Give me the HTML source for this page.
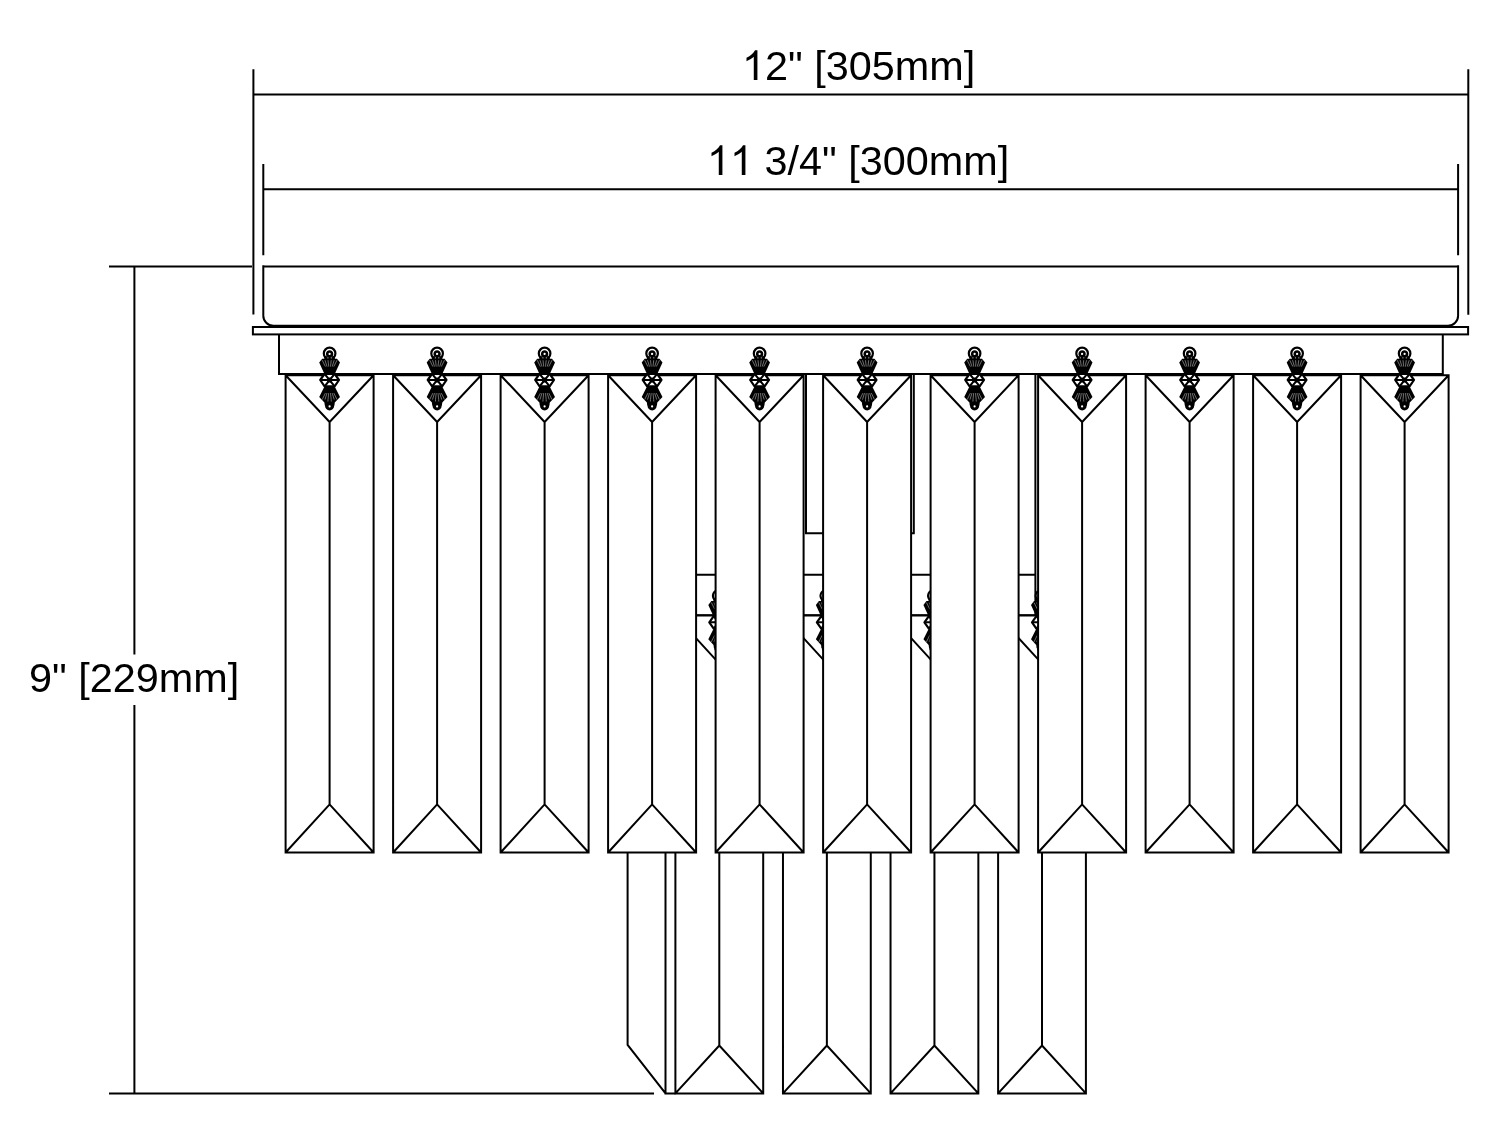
<!DOCTYPE html>
<html><head><meta charset="utf-8"><title>Fixture dimensions</title>
<style>
html,body{margin:0;padding:0;background:#fff;}
body{width:1500px;height:1145px;overflow:hidden;position:relative;font-family:"Liberation Sans",sans-serif;}
#dwg{position:absolute;left:0;top:0;display:block;}
.lbl{position:absolute;white-space:nowrap;color:#111;font-family:"Liberation Sans",sans-serif;font-size:41.4px;line-height:42px;color:#000;font-kerning:none;letter-spacing:0;background:transparent;will-change:transform;}
.g1{display:inline-block;width:0.55615em;height:0.75em;vertical-align:baseline;overflow:visible;}
</style></head><body>
<svg id="dwg" width="1500" height="1145" viewBox="0 0 1500 1145">
<defs>

<g id="orn">
<circle cx="0" cy="6.9" r="5.8" fill="#fff" stroke="#000" stroke-width="2.2"/>
<circle cx="0" cy="7.3" r="2.4" fill="#fff" stroke="#000" stroke-width="2.6"/>
<rect x="-5.2" y="9.6" width="10.4" height="3.4" fill="#000"/>
<path d="M-1.7,10.3V12.2M1.7,10.3V12.2" stroke="#aaa" stroke-width="0.8"/>
<polygon points="-7.4,12.2 7.4,12.2 10.4,16 5.4,27 -5.4,27 -10.4,16" fill="#000"/>
<line x1="-7.4" y1="13.6" x2="-4.2" y2="20" stroke="#8a8a8a" stroke-width="0.8"/>
<line x1="-4.6" y1="13.6" x2="-2.6" y2="20" stroke="#8a8a8a" stroke-width="0.8"/>
<line x1="-1.6" y1="13.6" x2="-0.9" y2="20" stroke="#8a8a8a" stroke-width="0.8"/>
<line x1="1.6" y1="13.6" x2="0.9" y2="20" stroke="#8a8a8a" stroke-width="0.8"/>
<line x1="4.6" y1="13.6" x2="2.6" y2="20" stroke="#8a8a8a" stroke-width="0.8"/>
<line x1="7.4" y1="13.6" x2="4.2" y2="20" stroke="#8a8a8a" stroke-width="0.8"/>
<polygon points="-9.4,33.4 -5,27.2 5,27.2 9.4,33.4 5,39.8 -5,39.8" fill="#fff" stroke="#000" stroke-width="2.2" stroke-linejoin="round"/>
<path d="M-9.4,33.4H9.4M-5,27.2L5,39.8M5,27.2L-5,39.8" stroke="#000" stroke-width="2.1" fill="none"/>
<circle cx="0" cy="33.4" r="2.6" fill="#000"/>
<polygon points="-5,39.6 5,39.6 10.4,50.3 5.2,56 4.8,59 -4.8,59 -5.2,56 -10.4,50.3" fill="#000"/>
<line x1="-4.2" y1="46.5" x2="-7.4" y2="53" stroke="#8a8a8a" stroke-width="0.8"/>
<line x1="-2.6" y1="46.5" x2="-4.6" y2="53" stroke="#8a8a8a" stroke-width="0.8"/>
<line x1="-0.9" y1="46.5" x2="-1.6" y2="53" stroke="#8a8a8a" stroke-width="0.8"/>
<line x1="0.9" y1="46.5" x2="1.6" y2="53" stroke="#8a8a8a" stroke-width="0.8"/>
<line x1="2.6" y1="46.5" x2="4.6" y2="53" stroke="#8a8a8a" stroke-width="0.8"/>
<line x1="4.2" y1="46.5" x2="7.4" y2="53" stroke="#8a8a8a" stroke-width="0.8"/>
<path d="M-1.6,53V57M1.6,53V57" stroke="#8a8a8a" stroke-width="0.8"/>
<circle cx="0" cy="59.2" r="4.6" fill="#000"/>
<circle cx="0" cy="59.8" r="1.1" fill="#fff"/>
</g>
</defs>
<rect x="0" y="0" width="1500" height="1145" fill="#fff"/>
<g fill="none" stroke="#000" stroke-width="2" stroke-linecap="butt" stroke-linejoin="miter">
<path d="M253.4,69.3V314.6M1468.3,69.3V314.8M253.4,94.6H1468.3"/>
<path d="M263.3,164V255.2M1458.1,164V255.3M263.3,189.3H1458.1"/>
<path d="M109,266.4H252M109,1093.4H654M134.4,266.4V654.4M134.4,705V1093.4"/>
<path d="M263.3,265.3V315.7A10,10 0 0 0 273.3,325.7H1448.1A10,10 0 0 0 1458.1,315.7V265.3M263.3,266.4H1458.1"/>
<rect x="252.9" y="327" width="1215.2" height="7.4"/>
<path d="M279,334.4V374H1442.8V334.4"/>
<path d="M806,374V533.2H913.8V374"/>
<path d="M686,374V574.8H1035.4V374M686,574.8V615.2H1035.4V574.8"/>
</g>
<g fill="none" stroke="#000" stroke-width="2" stroke-linejoin="miter">
<path d="M627.6,852.5V1044.8L665.5,1093.4M665.5,852.5V1093.4H675.4"/>
<rect x="675.4" y="615.6" width="87.8" height="477.8" fill="#fff" stroke="none"/>
<path d="M675.4,615.6H763.2V1093.4H675.4ZM675.4,615.6L719.3,663.6L763.2,615.6M719.3,663.6V1045.6M675.4,1093.4L719.3,1045.6L763.2,1093.4"/>
<rect x="782.97" y="615.6" width="87.8" height="477.8" fill="#fff" stroke="none"/>
<path d="M782.97,615.6H870.77V1093.4H782.97ZM782.97,615.6L826.87,663.6L870.77,615.6M826.87,663.6V1045.6M782.97,1093.4L826.87,1045.6L870.77,1093.4"/>
<rect x="890.54" y="615.6" width="87.8" height="477.8" fill="#fff" stroke="none"/>
<path d="M890.54,615.6H978.34V1093.4H890.54ZM890.54,615.6L934.44,663.6L978.34,615.6M934.44,663.6V1045.6M890.54,1093.4L934.44,1045.6L978.34,1093.4"/>
<rect x="998.11" y="615.6" width="87.8" height="477.8" fill="#fff" stroke="none"/>
<path d="M998.11,615.6H1085.91V1093.4H998.11ZM998.11,615.6L1042.01,663.6L1085.91,615.6M1042.01,663.6V1045.6M998.11,1093.4L1042.01,1045.6L1085.91,1093.4"/>
</g>
<use href="#orn" x="718.7" y="588.9"/>
<use href="#orn" x="826.27" y="588.9"/>
<use href="#orn" x="933.84" y="588.9"/>
<use href="#orn" x="1041.41" y="588.9"/>
<g fill="none" stroke="#000" stroke-width="2" stroke-linejoin="miter">
<rect x="285.6" y="375.2" width="88" height="477.3" fill="#fff" stroke="none"/>
<path d="M285.6,375.2H373.6V852.5H285.6ZM285.6,375.2L329.6,422L373.6,375.2M329.6,422V804.4M285.6,852.5L329.6,804.4L373.6,852.5"/>
<rect x="393.1" y="375.2" width="88" height="477.3" fill="#fff" stroke="none"/>
<path d="M393.1,375.2H481.1V852.5H393.1ZM393.1,375.2L437.1,422L481.1,375.2M437.1,422V804.4M393.1,852.5L437.1,804.4L481.1,852.5"/>
<rect x="500.6" y="375.2" width="88" height="477.3" fill="#fff" stroke="none"/>
<path d="M500.6,375.2H588.6V852.5H500.6ZM500.6,375.2L544.6,422L588.6,375.2M544.6,422V804.4M500.6,852.5L544.6,804.4L588.6,852.5"/>
<rect x="608.1" y="375.2" width="88" height="477.3" fill="#fff" stroke="none"/>
<path d="M608.1,375.2H696.1V852.5H608.1ZM608.1,375.2L652.1,422L696.1,375.2M652.1,422V804.4M608.1,852.5L652.1,804.4L696.1,852.5"/>
<rect x="715.6" y="375.2" width="88" height="477.3" fill="#fff" stroke="none"/>
<path d="M715.6,375.2H803.6V852.5H715.6ZM715.6,375.2L759.6,422L803.6,375.2M759.6,422V804.4M715.6,852.5L759.6,804.4L803.6,852.5"/>
<rect x="823.1" y="375.2" width="88" height="477.3" fill="#fff" stroke="none"/>
<path d="M823.1,375.2H911.1V852.5H823.1ZM823.1,375.2L867.1,422L911.1,375.2M867.1,422V804.4M823.1,852.5L867.1,804.4L911.1,852.5"/>
<rect x="930.6" y="375.2" width="88" height="477.3" fill="#fff" stroke="none"/>
<path d="M930.6,375.2H1018.6V852.5H930.6ZM930.6,375.2L974.6,422L1018.6,375.2M974.6,422V804.4M930.6,852.5L974.6,804.4L1018.6,852.5"/>
<rect x="1038.1" y="375.2" width="88" height="477.3" fill="#fff" stroke="none"/>
<path d="M1038.1,375.2H1126.1V852.5H1038.1ZM1038.1,375.2L1082.1,422L1126.1,375.2M1082.1,422V804.4M1038.1,852.5L1082.1,804.4L1126.1,852.5"/>
<rect x="1145.6" y="375.2" width="88" height="477.3" fill="#fff" stroke="none"/>
<path d="M1145.6,375.2H1233.6V852.5H1145.6ZM1145.6,375.2L1189.6,422L1233.6,375.2M1189.6,422V804.4M1145.6,852.5L1189.6,804.4L1233.6,852.5"/>
<rect x="1253.1" y="375.2" width="88" height="477.3" fill="#fff" stroke="none"/>
<path d="M1253.1,375.2H1341.1V852.5H1253.1ZM1253.1,375.2L1297.1,422L1341.1,375.2M1297.1,422V804.4M1253.1,852.5L1297.1,804.4L1341.1,852.5"/>
<rect x="1360.6" y="375.2" width="88" height="477.3" fill="#fff" stroke="none"/>
<path d="M1360.6,375.2H1448.6V852.5H1360.6ZM1360.6,375.2L1404.6,422L1448.6,375.2M1404.6,422V804.4M1360.6,852.5L1404.6,804.4L1448.6,852.5"/>
</g>
<use href="#orn" x="329.6" y="346.6"/>
<use href="#orn" x="437.1" y="346.6"/>
<use href="#orn" x="544.6" y="346.6"/>
<use href="#orn" x="652.1" y="346.6"/>
<use href="#orn" x="759.6" y="346.6"/>
<use href="#orn" x="867.1" y="346.6"/>
<use href="#orn" x="974.6" y="346.6"/>
<use href="#orn" x="1082.1" y="346.6"/>
<use href="#orn" x="1189.6" y="346.6"/>
<use href="#orn" x="1297.1" y="346.6"/>
<use href="#orn" x="1404.6" y="346.6"/>
</svg>
<div class="lbl" id="t1" style="left:741.7px;top:45.2px;"><svg class="g1" viewBox="0 -1536 1139 1536"><path transform="scale(1,-1)" d="M763 0H583V1147Q518 1085 412.5 1023T223 930V1104Q373 1174.5 485.5 1275T645 1470H763Z" fill="#000"/></svg>2" [305mm]</div>
<div class="lbl" id="t2" style="left:706.8px;top:140px;"><svg class="g1" viewBox="0 -1536 1139 1536"><path transform="scale(1,-1)" d="M763 0H583V1147Q518 1085 412.5 1023T223 930V1104Q373 1174.5 485.5 1275T645 1470H763Z" fill="#000"/></svg><svg class="g1" viewBox="0 -1536 1139 1536"><path transform="scale(1,-1)" d="M763 0H583V1147Q518 1085 412.5 1023T223 930V1104Q373 1174.5 485.5 1275T645 1470H763Z" fill="#000"/></svg> 3/4" [300mm]</div>
<div class="lbl" id="t3" style="left:29.2px;top:657px;">9" [229mm]</div>
</body></html>
